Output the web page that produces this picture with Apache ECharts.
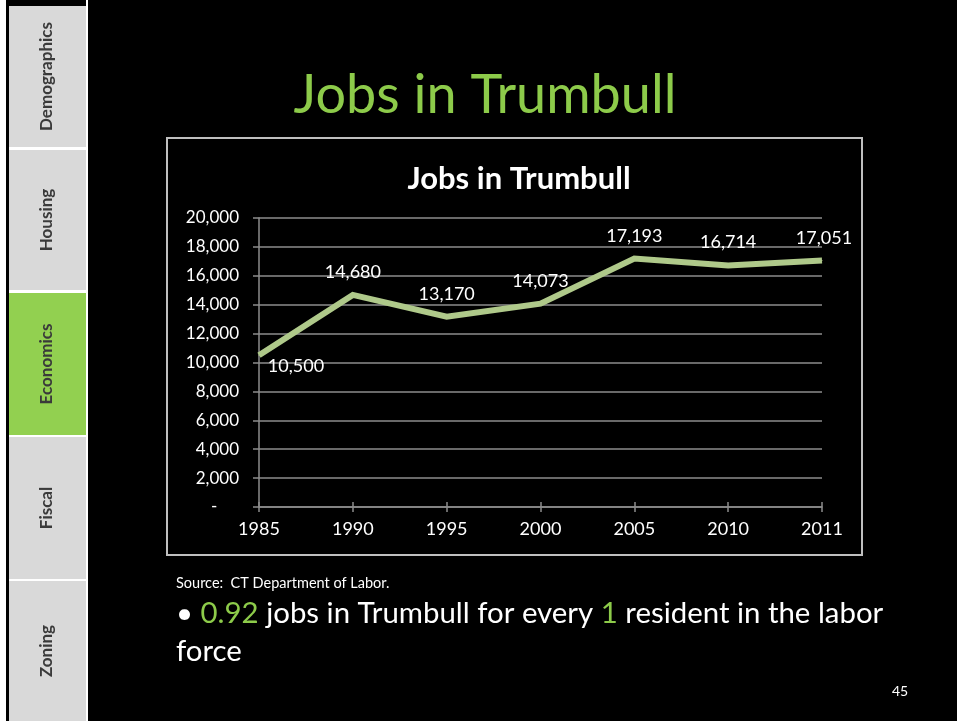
<!DOCTYPE html>
<html>
<head>
<meta charset="utf-8">
<script src="https://cdn.jsdelivr.net/npm/echarts@6/dist/echarts.min.js"></script>
<style>
html,body{margin:0;padding:0;background:#000;}
#chart{width:957px;height:721px;}
</style>
</head>
<body>
<div id="chart"></div>
<script>
// ---- data ----
var years = ['1985', '1990', '1995', '2000', '2005', '2010', '2011'];
var jobs = [10500, 14680, 13170, 14073, 17193, 16714, 17051];
var yTicks = { min: 0, max: 20000, interval: 2000 };
var tabs = ['Demographics', 'Housing', 'Economics', 'Fiscal', 'Zoning'];
var activeTab = 'Economics';
var slideTitle = 'Jobs in Trumbull';
var chartTitle = 'Jobs in Trumbull';
var sourceText = 'Source:  CT Department of Labor.';
var pageNumber = '45';

// ---- styles ----
var FONT = 'Lato, "Open Sans", sans-serif';
var GREEN = '#8DCB4A';
var LINE = '#AFC98A';
var labelOffsets = [[37, 25], [0, -8], [0, -8], [0, -8], [0, -8], [0, -9], [2, -8]];
var tabBounds = [[6, 147], [150, 290], [293, 435], [437, 579], [581, 721]];

var chart = echarts.init(document.getElementById('chart'), null, { renderer: 'canvas' });

function fmt(v) {
  if (v === 0) return '-     ';
  return String(v).replace(/\B(?=(\d{3})+(?!\d))/g, ',');
}

var graphics = [];
graphics.push({ type: 'rect', shape: { x: 0, y: 0, width: 6, height: 721 }, style: { fill: '#ffffff' }, z: 0 });
graphics.push({ type: 'rect', shape: { x: 86, y: 0, width: 2, height: 721 }, style: { fill: '#ffffff' }, z: 0 });
tabs.forEach(function (t, i) {
  var b = tabBounds[i];
  var active = t === activeTab;
  graphics.push({
    type: 'rect',
    shape: { x: 9, y: b[0], width: 77, height: b[1] - b[0] },
    style: { fill: active ? '#92D050' : '#D9D9D9' },
    z: 1
  });
  graphics.push({
    type: 'text',
    x: 47, y: (b[0] + b[1]) / 2,
    rotation: Math.PI / 2,
    style: { text: t, fill: '#3A3A3A', font: 'bold 17px ' + FONT, align: 'center', verticalAlign: 'middle' },
    z: 2
  });
});
for (var i = 0; i < tabBounds.length - 1; i++) {
  graphics.push({ type: 'rect', shape: { x: 9, y: tabBounds[i][1], width: 77, height: tabBounds[i + 1][0] - tabBounds[i][1] }, style: { fill: '#ffffff' }, z: 1 });
}
graphics.push({ type: 'text', x: 485, y: 96, style: { text: slideTitle, fill: GREEN, font: '54px ' + FONT, align: 'center', verticalAlign: 'middle' }, z: 2 });
graphics.push({ type: 'rect', shape: { x: 167, y: 138, width: 695, height: 417 }, style: { fill: null, stroke: '#BFBFBF', lineWidth: 2 }, z: 5 });
graphics.push({ type: 'text', x: 176, y: 583, style: { text: sourceText, fill: '#ffffff', font: '14.5px ' + FONT, align: 'left', verticalAlign: 'middle' }, z: 2 });
graphics.push({
  type: 'text', x: 176, y: 614,
  style: {
    text: '{w|• }{g|0.92}{w| jobs in Trumbull for every }{g|1}{w| resident in the labor}',
    rich: {
      w: { fill: '#ffffff', font: '29.4px ' + FONT },
      g: { fill: GREEN, font: '29.4px ' + FONT }
    },
    align: 'left', verticalAlign: 'middle'
  }, z: 2
});
graphics.push({ type: 'text', x: 176, y: 652, style: { text: 'force', fill: '#ffffff', font: '29.4px ' + FONT, align: 'left', verticalAlign: 'middle' }, z: 2 });
graphics.push({ type: 'text', x: 900, y: 691, style: { text: pageNumber, fill: '#ffffff', font: '14px ' + FONT, align: 'center', verticalAlign: 'middle' }, z: 2 });

var seriesData = jobs.map(function (v, i) {
  return { value: v, label: { offset: labelOffsets[i] } };
});

var axisCommon = { type: 'category', data: years, boundaryGap: false };

chart.setOption({
  backgroundColor: '#000000',
  animation: false,
  title: {
    text: chartTitle,
    left: 514, top: 158,
    textAlign: 'center',
    textStyle: { color: '#ffffff', fontFamily: FONT, fontWeight: 'bold', fontSize: 31 }
  },
  grid: { left: 259, right: 135, top: 218, bottom: 214, containLabel: false },
  xAxis: [
    Object.assign({}, axisCommon, {
      axisLine: { lineStyle: { color: '#8C8C8C', width: 1.5 } },
      axisTick: { show: true, alignWithLabel: true, length: 5, lineStyle: { color: '#8C8C8C', width: 1.5 } },
      axisLabel: { color: '#ffffff', fontFamily: FONT, fontSize: 18, margin: 13, interval: 0 },
      splitLine: { show: false }
    }),
    Object.assign({}, axisCommon, {
      position: 'bottom',
      axisLine: { show: false },
      axisTick: { show: true, inside: true, length: 5, lineStyle: { color: '#8C8C8C', width: 1.5 } },
      axisLabel: { show: false },
      splitLine: { show: false }
    })
  ],
  yAxis: {
    type: 'value',
    min: yTicks.min, max: yTicks.max, interval: yTicks.interval,
    axisLine: { show: true, lineStyle: { color: '#8C8C8C', width: 1.5 } },
    axisTick: { show: true, length: 6, lineStyle: { color: '#8C8C8C', width: 1.5 } },
    axisLabel: { color: '#ffffff', fontFamily: FONT, fontSize: 17, margin: 20, formatter: fmt },
    splitLine: { show: true, lineStyle: { color: '#8C8C8C', width: 1.5 } }
  },
  series: [{
    type: 'line',
    xAxisIndex: 0,
    data: seriesData,
    symbol: 'circle',
    symbolSize: 1,
    showSymbol: true,
    itemStyle: { color: LINE },
    lineStyle: { color: LINE, width: 6, join: 'miter' },
    label: {
      show: true, position: 'top', distance: 5,
      color: '#ffffff', fontFamily: FONT, fontSize: 18,
      formatter: function (p) { return fmt(p.value); }
    },
    z: 3
  }],
  graphic: graphics
});
</script>
</body>
</html>
